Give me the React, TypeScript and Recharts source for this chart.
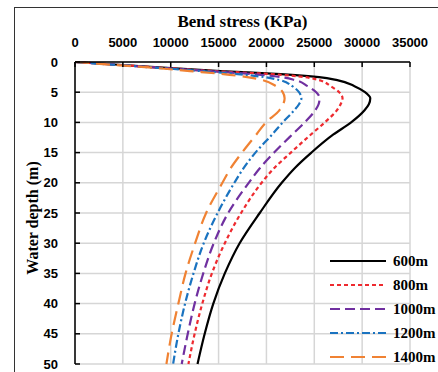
import { CartesianGrid, Legend, Line, LineChart, XAxis, YAxis } from "recharts";

const DEPTHS = [0, 0.5, 1, 1.5, 2, 2.5, 3, 4, 5, 6, 7, 8, 10, 12, 15, 17.5, 20, 25, 30, 35, 40, 45, 50];

const STRESS_600 = [0, 5000, 10000, 15200, 21500, 25500, 27400, 29200, 30300, 30850, 30700, 30250, 28850, 27000, 24700, 23000, 21600, 19300, 17200, 15650, 14450, 13550, 12800];
const STRESS_800 = [0, 4800, 9600, 14500, 20500, 24000, 25500, 26700, 27600, 27950, 27750, 27350, 26100, 24650, 22550, 20850, 19500, 17350, 15650, 14300, 13300, 12500, 11850];
const STRESS_1000 = [0, 4700, 9300, 14000, 18500, 21500, 23000, 24300, 25200, 25550, 25450, 25100, 24000, 22700, 20800, 19350, 18150, 16000, 14500, 13400, 12500, 11780, 11150];
const STRESS_1200 = [0, 4500, 9000, 13200, 17000, 19800, 21400, 22700, 23400, 23650, 23400, 22900, 21700, 20600, 18850, 17650, 16650, 14900, 13450, 12380, 11500, 10800, 10250];
const STRESS_1400 = [0, 4300, 8500, 12000, 15500, 18000, 19600, 21000, 21700, 21900, 21750, 21350, 19950, 18950, 17450, 16300, 15400, 13700, 12550, 11550, 10800, 10100, 9550];

const X_TICKS = [0, 5000, 10000, 15000, 20000, 25000, 30000, 35000];
const Y_TICKS = [0, 5, 10, 15, 20, 25, 30, 35, 40, 45, 50];

const SERIES = [
  { key: "s600", name: "600m", color: "#000000", dash: undefined as string | undefined },
  { key: "s800", name: "800m", color: "#ee2a2f", dash: "4 3" },
  { key: "s1000", name: "1000m", color: "#7030a0", dash: "10 5" },
  { key: "s1200", name: "1200m", color: "#1a73c0", dash: "8 3 2 3" },
  { key: "s1400", name: "1400m", color: "#f08233", dash: "14 7" },
];

const data = DEPTHS.map((depth, i) => ({
  depth,
  s600: STRESS_600[i],
  s800: STRESS_800[i],
  s1000: STRESS_1000[i],
  s1200: STRESS_1200[i],
  s1400: STRESS_1400[i],
}));

const tickStyle = { fontFamily: "Liberation Sans, Arial, sans-serif", fontWeight: 700, fontSize: 13, fill: "#000" };
const serifBold = "Liberation Serif, Times New Roman, serif";

function DepthLegend() {
  return (
    <div>
      {SERIES.map((s) => (
        <div key={s.key} style={{ display: "flex", alignItems: "center", height: 24 }}>
          <svg width={56} height={4} style={{ display: "block" }}>
            <line x1={0} y1={2} x2={56} y2={2} stroke={s.color} strokeWidth={2.2} strokeDasharray={s.dash} />
          </svg>
          <span style={{ marginLeft: 7, fontFamily: serifBold, fontWeight: 700, fontSize: 15, color: "#000" }}>{s.name}</span>
        </div>
      ))}
    </div>
  );
}

// rotated y-axis title, nudged a little below the plot centre like the original
function DepthLabel({ viewBox }: any) {
  const x = viewBox.x + 23;
  const y = viewBox.y + viewBox.height / 2 + 5;
  return (
    <text
      x={x}
      y={y}
      transform={`rotate(-90, ${x}, ${y})`}
      textAnchor="middle"
      style={{ fontFamily: serifBold, fontWeight: 700, fontSize: 16, fill: "#000" }}
    >
      Water depth (m)
    </text>
  );
}

export default function App() {
  return (
    <div style={{ position: "relative", width: 438, height: 372, overflow: "hidden", background: "#fff" }}>
      <style>{"body{margin:0}"}</style>
      <div
        style={{
          position: "absolute",
          left: 14,
          top: 7,
          width: 500,
          height: 500,
          border: "1.3px solid #333",
          pointerEvents: "none",
        }}
      />
      <LineChart
        width={438}
        height={372}
        data={data}
        layout="vertical"
        margin={{ top: 32, right: 28, bottom: 8, left: 15 }}
      >
        <CartesianGrid stroke="#d6d6d6" strokeWidth={1.5} />
        <XAxis
          type="number"
          orientation="top"
          domain={[0, 35000]}
          ticks={X_TICKS}
          height={30}
          tick={tickStyle}
          tickSize={-5}
          tickMargin={20}
          axisLine={{ stroke: "#000", strokeWidth: 1.5 }}
          tickLine={{ stroke: "#000", strokeWidth: 1.5 }}
          label={{
            value: "Bend stress (KPa)",
            position: "top",
            offset: 5,
            style: { fontFamily: serifBold, fontWeight: 700, fontSize: 17, fill: "#000" },
          }}
        />
        <YAxis
          type="number"
          dataKey="depth"
          domain={[0, 50]}
          ticks={Y_TICKS}
          width={60}
          tick={tickStyle}
          tickSize={-5}
          tickMargin={22}
          axisLine={{ stroke: "#000", strokeWidth: 1.5 }}
          tickLine={{ stroke: "#000", strokeWidth: 1.5 }}
          label={{ value: "Water depth (m)", content: DepthLabel }}
        />
        <Legend
          layout="vertical"
          align="center"
          verticalAlign="middle"
          content={() => <DepthLegend />}
          wrapperStyle={{ left: 330, top: 249, width: 110 }}
        />
        {SERIES.map((s) => (
          <Line
            key={s.key}
            dataKey={s.key}
            name={s.name}
            type="monotone"
            stroke={s.color}
            strokeWidth={2.2}
            strokeDasharray={s.dash}
            dot={false}
            isAnimationActive={false}
          />
        ))}
      </LineChart>
    </div>
  );
}
